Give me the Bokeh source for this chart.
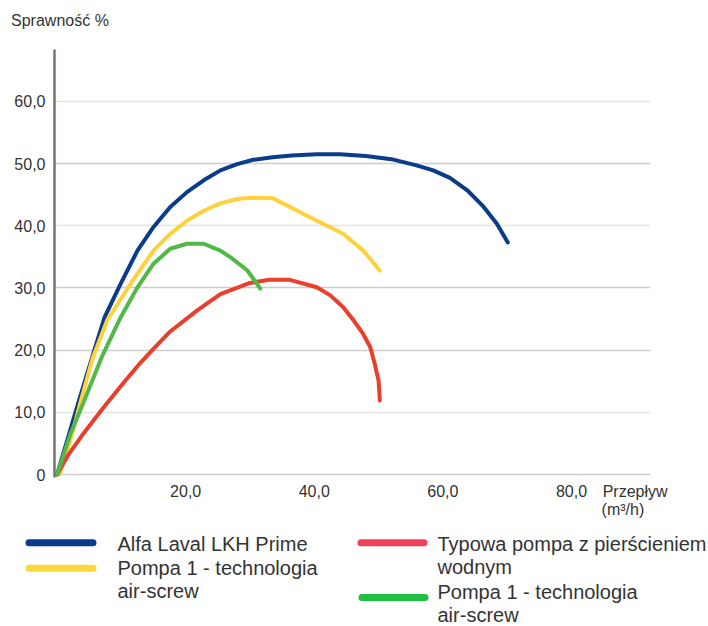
from bokeh.plotting import figure
from bokeh.layouts import column
from bokeh.models import Range1d, FixedTicker, Grid, LinearAxis
from bokeh.core.properties import value
from bokeh.embed import file_html
from bokeh.resources import INLINE

# ---------------- data ----------------
blue_x = [0, 1.5, 3.5, 5.8, 7.4, 9.9, 12.5, 15, 17.6, 20.2, 22.8, 25.4, 28, 30.5, 33.5, 36.5,
          40.4, 44, 48, 52, 55.9, 58.5, 61.1, 63.8, 66.2, 68.4, 70.1]
blue_y = [0, 5.2, 12.2, 20, 25.3, 30.7, 36, 39.8, 43, 45.4, 47.3, 48.9, 49.9, 50.6, 51.0, 51.3,
          51.5, 51.5, 51.2, 50.7, 49.7, 48.9, 47.7, 45.7, 43.2, 40.3, 37.3]

yellow_x = [0.4, 2.2, 3.9, 5.5, 7.8, 10.4, 12.5, 15, 17.6, 20.2, 22.8, 25.4, 28, 30, 33.6,
            40.4, 44.5, 47.6, 50.2]
yellow_y = [0, 6, 12.6, 18.6, 24.8, 29, 32.3, 36, 38.7, 40.8, 42.4, 43.6, 44.3, 44.5, 44.4,
            40.8, 38.7, 36, 32.8]

green_x = [0, 2, 4.5, 7, 9.9, 12.5, 15, 17.6, 20.2, 22.8, 25.4, 27, 29.6, 31.6]
green_y = [0, 6.3, 12.6, 19, 25.3, 30.1, 33.9, 36.3, 37.1, 37.1, 36, 34.9, 32.8, 29.9]

red_x = [0, 1.9, 3.9, 7.1, 10.7, 13, 14.8, 17.6, 21.8, 25.4, 30, 33, 36.2, 40.4, 42.5, 44.5,
         46.1, 47.6, 48.7, 49.4, 50, 50.2]
red_y = [0, 3.4, 6.3, 10.6, 15.2, 18, 20, 23, 26.4, 29, 30.8, 31.3, 31.3, 30.1, 28.8, 26.9,
         24.8, 22.6, 20.5, 17.8, 15.1, 11.9]

y_ticks = [0, 10, 20, 30, 40, 50, 60]
y_tick_labels = ["0", "10,0", "20,0", "30,0", "40,0", "50,0", "60,0"]
x_ticks = [20, 40, 60, 80]
x_tick_labels = ["20,0", "40,0", "60,0", "80,0"]

y_title = "Sprawność %"
y_title_at = 0.45            # flow position above which the y title is centred
x_title = ["Przepływ", "(m³/h)"]
x_title_at = [89.9, 88.0]   # flow positions under which the two title lines are centred

legend_names = ["Alfa Laval LKH Prime",
                "Pompa 1 - technologia\nair-screw",
                "Typowa pompa z pierścieniem\nwodnym",
                "Pompa 1 - technologia\nair-screw"]
legend_colors = ["#0b3c8c", "#fdd83a", "#f2405a", "#22bf45"]

curve_colors = ["#0b3c8c", "#fdd23c", "#e8402c", "#52b848"]

FONT = "Liberation Sans"
TXT = "#333333"

# ---------------- main chart ----------------
p = figure(width=708, height=528, output_backend="svg", toolbar_location=None,
           x_range=Range1d(-0.4, -0.4 + 596 / 6.43),
           y_range=Range1d(-0.48, -0.48 + 428 / 6.22),
           min_border_left=54, min_border_right=58, min_border_top=49, min_border_bottom=51)
p.frame_align = False
p.title.visible = False
p.outline_line_color = None
p.background_fill_color = "white"
p.border_fill_color = "white"
p.xgrid.visible = False
p.ygrid.visible = False

strong = Grid(dimension=1, ticker=FixedTicker(ticks=[0, 20, 30, 50]),
              grid_line_color="#cdcdcd", grid_line_width=1.5)
faint = Grid(dimension=1, ticker=FixedTicker(ticks=[10, 40, 60]),
             grid_line_color="#e4e4e4", grid_line_width=1.5)
p.add_layout(strong)
p.add_layout(faint)

p.yaxis.ticker = FixedTicker(ticks=y_ticks)
p.yaxis.major_label_overrides = dict(zip(y_ticks, y_tick_labels))
p.yaxis.axis_line_color = "#7d716b"
p.yaxis.axis_line_width = 2.5
p.yaxis.major_tick_line_color = None
p.yaxis.minor_tick_line_color = None
p.yaxis.major_tick_out = 0
p.yaxis.major_label_standoff = 9
p.yaxis.major_label_text_font = FONT
p.yaxis.major_label_text_font_size = "16px"
p.yaxis.major_label_text_color = TXT

overrides = dict(zip(x_ticks, x_tick_labels))
overrides[x_title_at[0]] = x_title[0]
overrides[x_title_at[1]] = "\n" + x_title[1]
p.xaxis.ticker = FixedTicker(ticks=x_ticks + x_title_at)
p.xaxis.major_label_overrides = overrides
p.xaxis.axis_line_color = None
p.xaxis.major_tick_line_color = None
p.xaxis.minor_tick_line_color = None
p.xaxis.major_tick_out = 0
p.xaxis.major_label_standoff = 5
p.xaxis.major_label_text_font = FONT
p.xaxis.major_label_text_font_size = "16px"
p.xaxis.major_label_text_color = TXT
p.xaxis.major_label_text_line_height = 1.1

# the y-axis title sits above the frame's top-left corner
top_axis = LinearAxis(ticker=FixedTicker(ticks=[y_title_at]),
                      major_label_overrides={y_title_at: y_title},
                      axis_line_color=None, major_tick_line_color=None,
                      minor_tick_line_color=None, major_tick_out=0,
                      major_label_standoff=21, major_label_text_font=FONT,
                      major_label_text_font_size="16px", major_label_text_color=TXT)
p.add_layout(top_axis, "above")

series = [(blue_x, blue_y), (yellow_x, yellow_y), (red_x, red_y), (green_x, green_y)]
for (xs, ys), c in zip(series, curve_colors):
    p.line(xs, ys, line_color=c, line_width=4, line_join="round", line_cap="round")

# ---------------- legend ----------------
leg = figure(width=708, height=98, output_backend="svg", toolbar_location=None,
             x_range=Range1d(0, 708), y_range=Range1d(98, 0),
             min_border=0, min_border_left=0, min_border_right=0,
             min_border_top=0, min_border_bottom=0)
leg.frame_align = False
leg.axis.visible = False
leg.grid.visible = False
leg.outline_line_color = None
leg.background_fill_color = "white"
leg.border_fill_color = "white"

# layout of the legend entries (sample x-range, sample y, text x, first baseline)
slots = [(28.5, 92.5, 14.3, 117, 15.5),
         (28.5, 92.5, 39.7, 117, 39.5),
         (360.5, 423.5, 14.3, 437, 15.5),
         (361.5, 424.5, 69.0, 437, 63.5)]
line_h = 23
tx, ty, tt = [], [], []
for (x0, x1, ys, txp, base), name, c in zip(slots, legend_names, legend_colors):
    leg.segment(x0=[x0], y0=[ys], x1=[x1], y1=[ys], line_color=c, line_width=7,
                line_cap="round")
    for i, part in enumerate(name.split("\n")):
        tx.append(txp)
        ty.append(base + i * line_h)
        tt.append(part)
leg.text(x=tx, y=ty, text=tt, text_font=value(FONT), text_font_size=value("20px"),
         text_color=TXT, text_baseline="alphabetic", text_align="left")

layout = column(p, leg)
open("out.html", "w").write(file_html(layout, INLINE))
